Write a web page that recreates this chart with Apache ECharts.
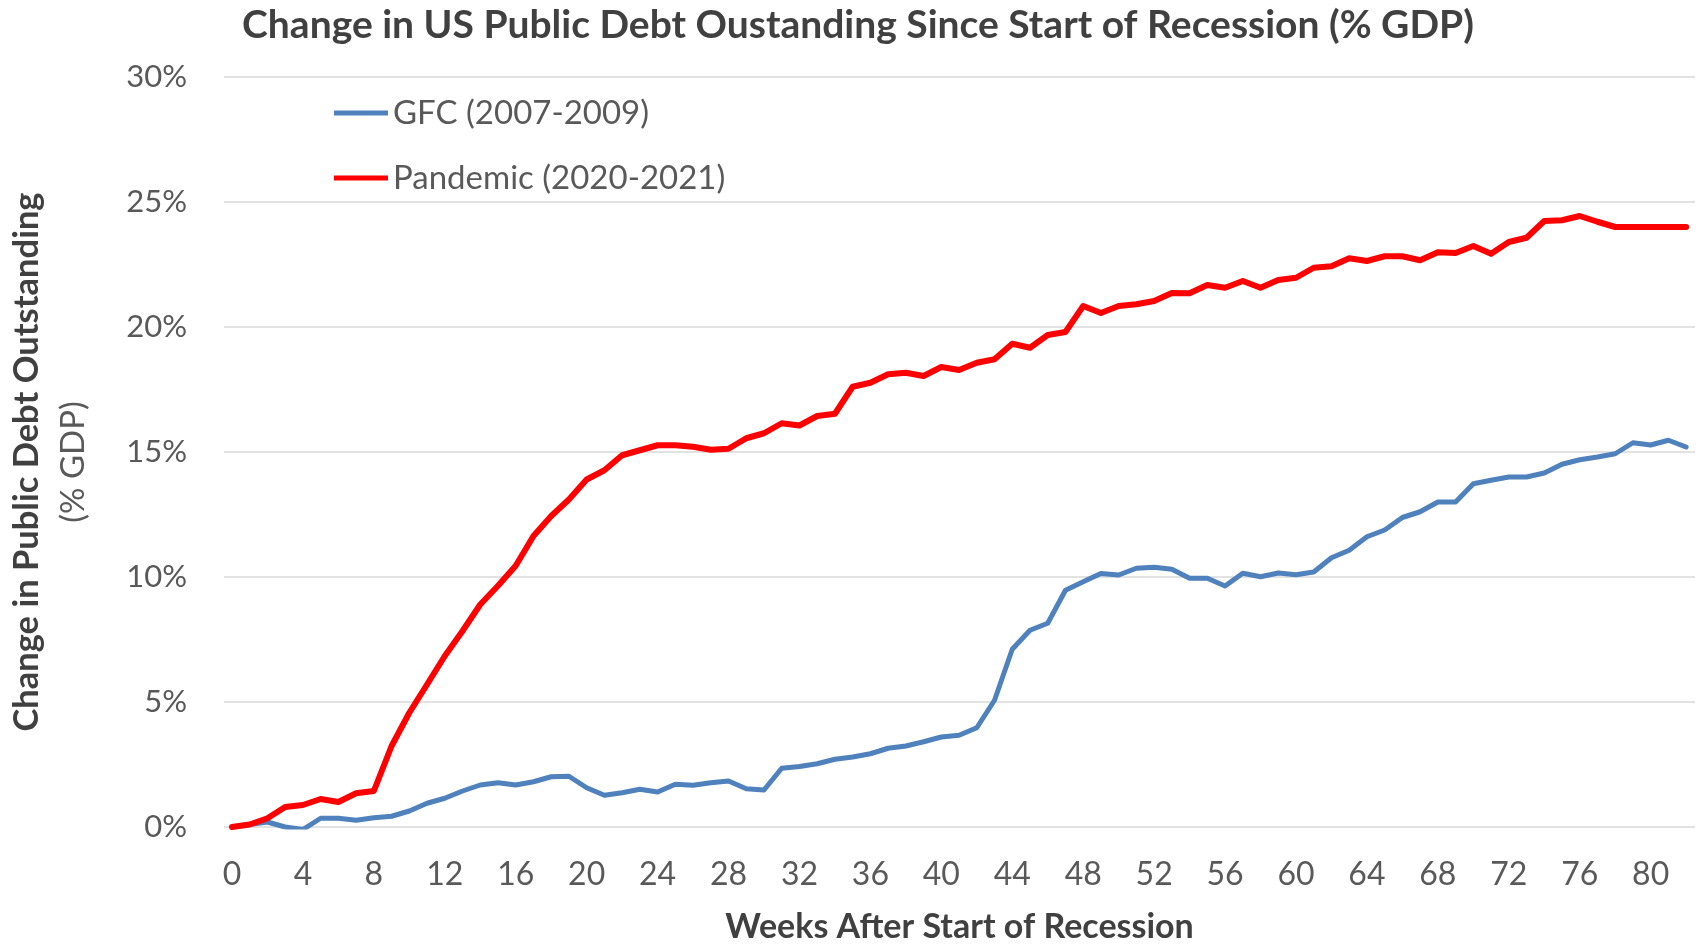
<!DOCTYPE html>
<html>
<head>
<meta charset="utf-8">
<title>Change in US Public Debt Outstanding Since Start of Recession</title>
<script src="https://cdn.jsdelivr.net/npm/echarts@6/dist/echarts.min.js"></script>
<style>
  html, body { margin: 0; padding: 0; background: #ffffff; }
  #chart { width: 1698px; height: 946px; }
</style>
</head>
<body>
<div id="chart"></div>
<script>
// Weeks elapsed since the start of each recession
const weeks = [
  0, 1, 2, 3, 4, 5, 6, 7, 8, 9, 10, 11, 12, 13, 14, 15, 16, 17, 18, 19, 20,
  21, 22, 23, 24, 25, 26, 27, 28, 29, 30, 31, 32, 33, 34, 35, 36, 37, 38, 39, 40,
  41, 42, 43, 44, 45, 46, 47, 48, 49, 50, 51, 52, 53, 54, 55, 56, 57, 58, 59, 60,
  61, 62, 63, 64, 65, 66, 67, 68, 69, 70, 71, 72, 73, 74, 75, 76, 77, 78, 79, 80,
  81, 82
];

// Change in public debt outstanding, % of GDP
const gfc = [
  0, 0.1, 0.2, 0.0, -0.1, 0.35, 0.35, 0.27, 0.37, 0.43, 0.64, 0.95, 1.15, 1.44, 1.68, 1.77,
  1.68, 1.81, 2.01, 2.03, 1.57, 1.27, 1.37, 1.51, 1.40, 1.71, 1.67, 1.77, 1.84, 1.53, 1.48, 2.35,
  2.42, 2.53, 2.71, 2.80, 2.93, 3.15, 3.24, 3.41, 3.60, 3.67, 3.97, 5.07, 7.11, 7.87, 8.15, 9.47,
  9.81, 10.14, 10.08, 10.35, 10.39, 10.31, 9.95, 9.95, 9.64, 10.15, 10.01, 10.16, 10.09, 10.20, 10.77, 11.07,
  11.61, 11.88, 12.38, 12.61, 13.00, 13.00, 13.73, 13.87, 14.00, 14.00, 14.16, 14.51, 14.69, 14.80, 14.93, 15.37,
  15.28, 15.47, 15.20
];

const pandemic = [
  0, 0.1, 0.35, 0.8, 0.88, 1.12, 1.0, 1.35, 1.44, 3.24, 4.57, 5.7, 6.84, 7.84, 8.9, 9.65,
  10.45, 11.64, 12.44, 13.1, 13.9, 14.27, 14.87, 15.07, 15.27, 15.27, 15.21, 15.09, 15.13, 15.55, 15.75, 16.15,
  16.06, 16.44, 16.53, 17.61, 17.77, 18.11, 18.17, 18.04, 18.4, 18.28, 18.57, 18.71, 19.33, 19.17, 19.68, 19.8,
  20.84, 20.56, 20.84, 20.91, 21.04, 21.36, 21.35, 21.68, 21.57, 21.84, 21.57, 21.88, 21.97, 22.37, 22.43, 22.75,
  22.64, 22.83, 22.83, 22.67, 22.99, 22.96, 23.24, 22.93, 23.4, 23.57, 24.24, 24.27, 24.44, 24.21, 24.0, 24.0,
  24.0, 24.0, 24.0
];

// Labelled weeks on the horizontal axis
const weekTicks = [0, 4, 8, 12, 16, 20, 24, 28, 32, 36, 40, 44, 48, 52, 56, 60, 64, 68, 72, 76, 80];

const seriesNames = ['GFC (2007-2009)', 'Pandemic (2020-2021)'];

const FONT = 'Lato, "Noto Sans", sans-serif';
const DARK = '#404040';
const MID = '#595959';

const chart = echarts.init(document.getElementById('chart'), null, { renderer: 'canvas' });

chart.setOption({
  animation: false,
  backgroundColor: '#ffffff',
  legend: {
    orient: 'vertical',
    left: 329,
    top: 88,
    itemGap: 25,
    itemWidth: 54,
    itemHeight: 5,
    icon: 'rect',
    textStyle: { fontFamily: FONT, fontSize: 33, color: MID, lineHeight: 40 },
    data: seriesNames
  },
  grid: { left: 224, right: 3, top: 77, bottom: 119, containLabel: false, outerBoundsMode: 'none' },
  xAxis: {
    type: 'value',
    min: -0.45,
    max: 82.5,
    axisLine: { show: false },
    axisTick: { show: false },
    splitLine: { show: false },
    axisLabel: {
      customValues: weekTicks,
      margin: 32,
      fontFamily: FONT,
      fontSize: 32,
      color: MID
    },
    name: 'Weeks After Start of Recession',
    nameLocation: 'middle',
    nameGap: 83,
    nameTextStyle: { fontFamily: FONT, fontWeight: 'bold', fontSize: 34, color: DARK }
  },
  yAxis: {
    type: 'value',
    min: 0,
    max: 30,
    interval: 5,
    axisLine: { show: false },
    axisTick: { show: false },
    splitLine: { show: true, lineStyle: { color: '#d9d9d9', width: 1.5 } },
    axisLabel: {
      formatter: '{value}%',
      margin: 37,
      fontFamily: FONT,
      fontSize: 31,
      color: MID
    }
  },
  graphic: [
    {
      type: 'text',
      x: 858,
      y: 25,
      style: {
        text: 'Change in US Public Debt Oustanding Since Start of Recession (% GDP)',
        align: 'center',
        verticalAlign: 'middle',
        fontFamily: FONT,
        fontWeight: 'bold',
        fontSize: 39,
        fill: DARK
      }
    },
    {
      type: 'text',
      x: 50,
      y: 462,
      rotation: Math.PI / 2,
      style: {
        text: '{b|Change in Public Debt Outstanding}\n{r|(% GDP)}',
        align: 'center',
        verticalAlign: 'middle',
        rich: {
          b: { fontFamily: FONT, fontWeight: 'bold', fontSize: 34.5, fill: DARK, lineHeight: 46, align: 'center' },
          r: { fontFamily: FONT, fontSize: 33, fill: MID, lineHeight: 46, align: 'center' }
        }
      }
    }
  ],
  series: [
    {
      name: seriesNames[0],
      type: 'line',
      showSymbol: false,
      symbol: 'none',
      color: '#4f81bd',
      lineStyle: { width: 5, color: '#4f81bd', cap: 'round', join: 'round' },
      data: weeks.map((w, i) => [w, gfc[i]]),
      z: 2
    },
    {
      name: seriesNames[1],
      type: 'line',
      showSymbol: false,
      symbol: 'none',
      color: '#ff0000',
      lineStyle: { width: 6, color: '#ff0000', cap: 'round', join: 'round' },
      data: weeks.map((w, i) => [w, pandemic[i]]),
      z: 3
    }
  ]
});
</script>
</body>
</html>
